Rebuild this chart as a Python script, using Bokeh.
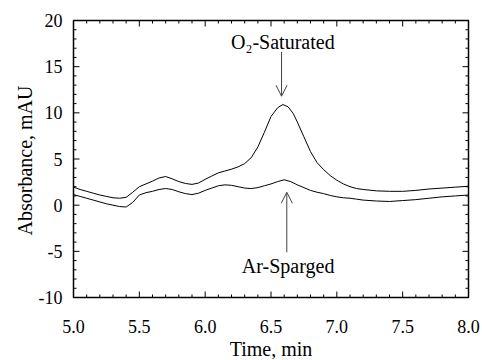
import math
from bokeh.plotting import figure
from bokeh.models import Arrow, OpenHead, Label, Range1d
from bokeh.core.properties import value
from bokeh.embed import file_html
from bokeh.resources import INLINE

# ---- data ----
time_o2 = [5.00, 5.05, 5.10, 5.15, 5.20, 5.25, 5.30, 5.35, 5.40, 5.45, 5.50, 5.55,
           5.60, 5.65, 5.70, 5.75, 5.80, 5.85, 5.90, 5.95, 6.00, 6.05, 6.10, 6.15,
           6.20, 6.25, 6.30, 6.35, 6.40, 6.45, 6.50, 6.55, 6.59, 6.63, 6.67, 6.70,
           6.75, 6.80, 6.85, 6.90, 6.95, 7.00, 7.05, 7.10, 7.15, 7.20, 7.30, 7.40,
           7.50, 7.60, 7.70, 7.80, 7.90, 8.00]
abs_o2 = [1.95, 1.70, 1.50, 1.30, 1.10, 0.95, 0.80, 0.75, 0.85, 1.40, 2.00, 2.30,
          2.60, 2.95, 3.10, 2.85, 2.55, 2.35, 2.25, 2.40, 2.80, 3.15, 3.50, 3.70,
          3.90, 4.15, 4.50, 5.15, 6.30, 7.90, 9.60, 10.55, 10.90, 10.65, 9.90, 9.00,
          7.40, 5.80, 4.60, 3.85, 3.20, 2.70, 2.30, 2.00, 1.80, 1.70, 1.55, 1.50,
          1.50, 1.60, 1.75, 1.85, 1.95, 2.05]

time_ar = [5.00, 5.05, 5.10, 5.15, 5.20, 5.25, 5.30, 5.35, 5.40, 5.45, 5.50, 5.55,
           5.60, 5.65, 5.70, 5.75, 5.80, 5.85, 5.90, 5.95, 6.00, 6.05, 6.10, 6.15,
           6.20, 6.25, 6.30, 6.35, 6.40, 6.45, 6.50, 6.55, 6.60, 6.65, 6.70, 6.75,
           6.80, 6.85, 6.90, 6.95, 7.00, 7.05, 7.10, 7.15, 7.20, 7.30, 7.40, 7.50,
           7.60, 7.70, 7.80, 7.90, 8.00]
abs_ar = [1.15, 0.95, 0.75, 0.55, 0.35, 0.15, 0.00, -0.15, -0.20, 0.30, 1.10, 1.35,
          1.50, 1.70, 1.80, 1.70, 1.45, 1.25, 1.15, 1.30, 1.60, 1.85, 2.10, 2.20,
          2.15, 2.00, 1.85, 1.80, 1.90, 2.10, 2.30, 2.55, 2.75, 2.55, 2.20, 1.90,
          1.60, 1.40, 1.25, 1.05, 0.90, 0.80, 0.75, 0.65, 0.55, 0.45, 0.40, 0.50,
          0.60, 0.75, 0.90, 1.00, 1.10]

x_ticks = [5.0, 5.5, 6.0, 6.5, 7.0, 7.5, 8.0]
x_tick_labels = ["5.0", "5.5", "6.0", "6.5", "7.0", "7.5", "8.0"]
y_ticks = [-10, -5, 0, 5, 10, 15, 20]
y_tick_labels = ["-10", "-5", "0", "5", "10", "15", "20"]
x_minor_step = 0.1
y_minor_step = 1
x_title = "Time, min"
y_title = "Absorbance, mAU"

# annotation anchors (data units)
o2_label = "O\u2082-Saturated"
o2_label_pos = (6.59, 17.65)
o2_arrow = (6.58, 16.6, 6.58, 11.8)
ar_label = "Ar-Sparged"
ar_label_pos = (6.63, -6.6)
ar_arrow = (6.62, -5.1, 6.62, 1.4)

X0, X1 = 5.0, 8.0
Y0, Y1 = -10, 20

# ---- layout (pixels) ----
W, H = 482, 359
LEFT, RIGHT, TOP, BOTTOM = 73, 468, 20, 297
SX = (RIGHT - LEFT) / (X1 - X0)     # px per x unit
SY = (BOTTOM - TOP) / (Y1 - Y0)     # px per y unit
MAJ, MIN = 6, 3                      # tick lengths, px

FONT = "Liberation Serif"
TICK_FS = "18px"
FS = "20px"

p = figure(width=W, height=H, output_backend="svg", toolbar_location=None,
           x_axis_location=None, y_axis_location=None,
           x_range=Range1d(X0 - LEFT / SX, X1 + (W - RIGHT) / SX),
           y_range=Range1d(Y0 - (H - BOTTOM) / SY, Y1 + TOP / SY),
           min_border_left=0, min_border_right=0, min_border_top=0, min_border_bottom=0)
p.background_fill_color = "white"
p.border_fill_color = "white"
p.outline_line_color = None
p.grid.visible = False

# curves
p.line(time_o2, abs_o2, line_color="black", line_width=1.0)
p.line(time_ar, abs_ar, line_color="black", line_width=1.0)

# frame box
p.quad(left=[X0], right=[X1], bottom=[Y0], top=[Y1], fill_color=None,
       line_color="black", line_width=1.5)

# ticks (inward, all four sides)
def frange(a, b, step):
    n = int(round((b - a) / step))
    return [a + i * step for i in range(n + 1)]

xmin = [t for t in frange(X0, X1, x_minor_step)
        if all(abs(t - m) > 1e-9 for m in x_ticks)]
ymin = [t for t in frange(Y0, Y1, y_minor_step)
        if all(abs(t - m) > 1e-9 for m in y_ticks)]

x0s, y0s, x1s, y1s = [], [], [], []
for ticks, ln in ((x_ticks, MAJ), (xmin, MIN)):
    for t in ticks:
        x0s += [t, t]; x1s += [t, t]
        y0s += [Y0, Y1]; y1s += [Y0 + ln / SY, Y1 - ln / SY]
for ticks, ln in ((y_ticks, MAJ), (ymin, MIN)):
    for t in ticks:
        y0s += [t, t]; y1s += [t, t]
        x0s += [X0, X1]; x1s += [X0 + ln / SX, X1 - ln / SX]
p.segment(x0=x0s, y0=y0s, x1=x1s, y1=y1s, line_color="black", line_width=1.0)

# tick labels
p.text(x=x_ticks, y=[Y0 - 29 / SY] * len(x_ticks), text=x_tick_labels,
       text_font=value(FONT), text_font_size=value(TICK_FS), text_color="black",
       text_align="center", text_baseline="alphabetic")
p.text(x=[X0 - 11 / SX] * len(y_ticks), y=y_ticks, text=y_tick_labels,
       text_font=value(FONT), text_font_size=value(TICK_FS), text_color="black",
       text_align="right", text_baseline="middle")

# axis titles
p.text(x=[(X0 + X1) / 2], y=[Y0 - 51 / SY], text=[x_title],
       text_font=value(FONT), text_font_size=value(FS), text_color="black",
       text_align="center", text_baseline="alphabetic")
p.text(x=[X0 - 49 / SX], y=[(Y0 + Y1) / 2 - 1.5 / SY], text=[y_title], angle=math.pi / 2,
       text_font=value(FONT), text_font_size=value(FS), text_color="black",
       text_align="center", text_baseline="alphabetic")

# annotations
head_color = "#444444"
p.add_layout(Arrow(end=OpenHead(size=11, line_color=head_color, line_width=1),
                   x_start=o2_arrow[0], y_start=o2_arrow[1], x_end=o2_arrow[2], y_end=o2_arrow[3],
                   line_color=head_color, line_width=1))
p.add_layout(Arrow(end=OpenHead(size=11, line_color=head_color, line_width=1),
                   x_start=ar_arrow[0], y_start=ar_arrow[1], x_end=ar_arrow[2], y_end=ar_arrow[3],
                   line_color=head_color, line_width=1))

p.add_layout(Label(x=o2_label_pos[0], y=o2_label_pos[1], text=o2_label, text_font=FONT,
                   text_font_size=FS, text_align="center", text_baseline="alphabetic",
                   text_color="black"))
p.add_layout(Label(x=ar_label_pos[0], y=ar_label_pos[1], text=ar_label, text_font=FONT,
                   text_font_size=FS, text_align="center", text_baseline="alphabetic",
                   text_color="black"))

open("out.html", "w").write(file_html(p, INLINE))
